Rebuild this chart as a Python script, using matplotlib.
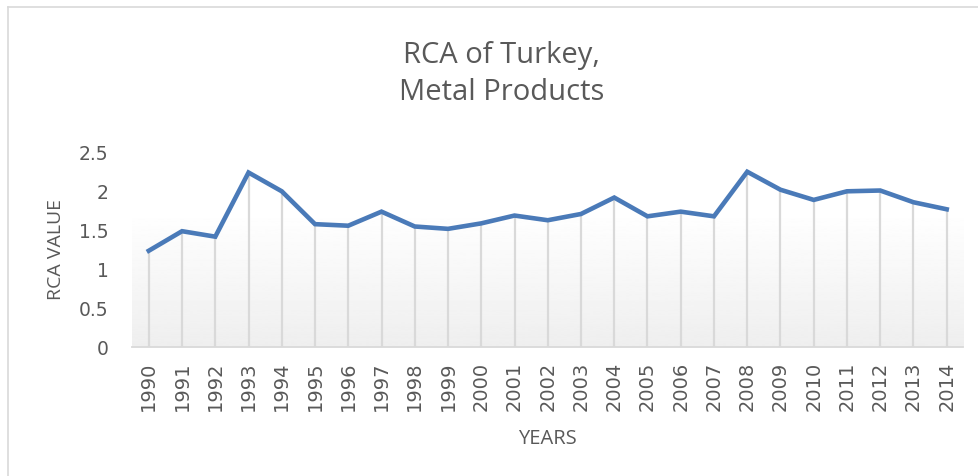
import numpy as np
import matplotlib
matplotlib.use("Agg")
from matplotlib import pyplot as plt
from matplotlib.lines import Line2D

years = [str(y) for y in range(1990, 2015)]
rca = [1.23, 1.48, 1.41, 2.23, 1.99, 1.57, 1.55, 1.73, 1.54, 1.51,
       1.58, 1.68, 1.62, 1.70, 1.91, 1.67, 1.73, 1.67, 2.24, 2.01,
       1.88, 1.99, 2.00, 1.85, 1.76]
yticks = [0, 0.5, 1, 1.5, 2, 2.5]
ytick_labels = ["0", "0.5", "1", "1.5", "2", "2.5"]

TEXT = "#595959"
LINE = "#4a7ab8"

fig = plt.figure(figsize=(9.79, 4.77), dpi=100)
ax = fig.add_axes([0.135, 0.2705, 0.849, 0.41])

x = np.arange(len(years))

# light gradient panel behind the series
grad = np.linspace(0.935, 1.0, 256).reshape(-1, 1)
ax.imshow(grad, cmap="gray", vmin=0, vmax=1, aspect="auto",
          extent=[-0.5, len(years) - 0.5, 0, 1.75], origin="lower", zorder=0)

# drop lines
ax.vlines(x, 0, rca, colors="#d9d9d9", linewidth=1.6, zorder=1)
ax.plot(x, rca, color=LINE, linewidth=3.3, solid_joinstyle="miter", zorder=3)

ax.set_xlim(-0.5, len(years) - 0.5)
ax.set_ylim(0, 2.5)
ax.set_xticks(x)
ax.set_xticklabels(years, rotation=90, fontsize=14, color=TEXT, family="DejaVu Sans")
ax.set_yticks(yticks)
ax.set_yticklabels(ytick_labels, fontsize=13.5, color=TEXT, family="DejaVu Sans")
ax.tick_params(axis="x", length=0, pad=10)
ax.tick_params(axis="y", length=0, pad=17)

for s in ["top", "right", "left"]:
    ax.spines[s].set_visible(False)
ax.spines["bottom"].set_color("#d9d9d9")
ax.spines["bottom"].set_linewidth(1.3)

fig.text(56 / 979, 1 - 250 / 477, "RCA VALUE", rotation=90, ha="center", va="center",
         fontsize=14, color=TEXT, family="Open Sans")
fig.text(547 / 979, 1 - 444 / 477, "YEARS", ha="center", va="baseline",
         fontsize=14.5, color=TEXT, family="Open Sans")

fig.text(501 / 979, 1 - 63 / 477, "RCA of Turkey,", ha="center", va="baseline",
         fontsize=21, color=TEXT, family="Open Sans")
fig.text(502 / 979, 1 - 100 / 477, "Metal Products", ha="center", va="baseline",
         fontsize=21, color=TEXT, family="Open Sans")

# chart border
fig.add_artist(Line2D([0.008, 0.008], [0.0, 0.983], color="#d9d9d9", linewidth=1.2,
                      transform=fig.transFigure))
fig.add_artist(Line2D([0.008, 1.0], [0.983, 0.983], color="#d9d9d9", linewidth=1.2,
                      transform=fig.transFigure))

fig.savefig("out.png", dpi=100)
